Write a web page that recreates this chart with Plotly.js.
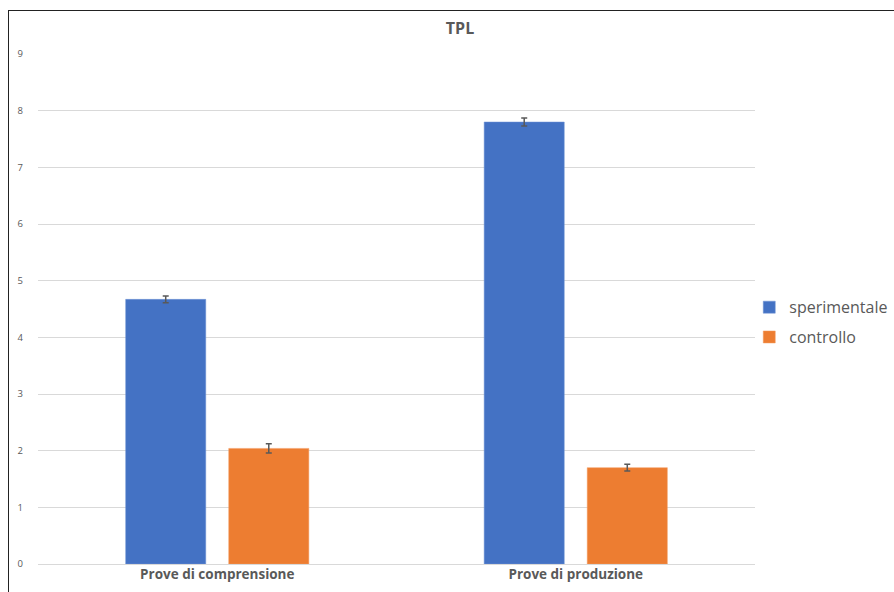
<!DOCTYPE html>
<html>
<head>
<meta charset="utf-8">
<script src="https://cdn.plot.ly/plotly-3.0.1.min.js"></script>
<style>
html,body{margin:0;padding:0;background:#fff;}
#wrap{position:relative;width:894px;height:592px;overflow:hidden;}
#chart{width:894px;height:592px;}
#frame{position:absolute;left:8px;top:10px;width:900px;height:600px;border:1.5px solid #222;box-sizing:border-box;pointer-events:none;}
</style>
</head>
<body>
<div id="wrap"><div id="chart"></div><div id="frame"></div></div>
<script>
const categories = ["Prove di comprensione", "Prove di produzione"];
const seriesNames = ["sperimentale", "controllo"];
const sperimentale = [4.67, 7.80];
const sperimentaleErr = [0.06, 0.07];
const controllo = [2.04, 1.70];
const controlloErr = [0.08, 0.06];
const yTicks = [0,1,2,3,4,5,6,7,8,9];

const errStyle = {type:'data', visible:true, color:'#595959', thickness:1.5, width:3};
const traces = [
  {type:'bar', name:seriesNames[0], legendgroup:'a', x:categories, y:sperimentale,
   error_y:Object.assign({array:sperimentaleErr}, errStyle),
   marker:{color:'#4472C4', line:{color:'#6f93d4', width:0.5}}},
  {type:'bar', name:seriesNames[1], legendgroup:'b', x:categories, y:controllo,
   error_y:Object.assign({array:controlloErr}, errStyle),
   marker:{color:'#ED7D31', line:{color:'#f29a5e', width:0.5}}}
];
const layout = {
  width:894, height:592,
  margin:{l:38, r:139, t:54, b:28, pad:0, autoexpand:false},
  paper_bgcolor:'#fff', plot_bgcolor:'#fff',
  font:{family:'Open Sans, Liberation Sans, sans-serif', color:'#595959'},
  title:{text:'<b>TPL</b>', x:460/894, xanchor:'center', xref:'container', y:1-28/592, yanchor:'middle', yref:'container',
         font:{size:16, color:'#595959', family:'Open Sans, sans-serif'}},
  barmode:'group', bargap:0.425, bargroupgap:0.223,
  xaxis:{tickfont:{size:13.5, color:'#595959', family:'Open Sans, sans-serif', weight:'bold'},
         showgrid:false, showline:false, ticks:'', zeroline:false, fixedrange:true, ticklabelstandoff:9.5},
  yaxis:{range:[0,9], tickvals:yTicks, tickfont:{size:9.5, color:'#595959'},
         showgrid:true, gridcolor:'#d9d9d9', gridwidth:1, zeroline:true, zerolinecolor:'#d9d9d9', zerolinewidth:1,
         ticks:'', ticklabelstandoff:14, showline:false},
  legend:{x:0.992, xanchor:'left', y:0.474, yanchor:'middle', font:{size:16, color:'#595959'},
          bgcolor:'rgba(0,0,0,0)', itemwidth:30, traceorder:'grouped', tracegroupgap:6},
  showlegend:true
};
Plotly.newPlot('chart', traces, layout, {displayModeBar:false, staticPlot:true});
</script>
</body>
</html>
